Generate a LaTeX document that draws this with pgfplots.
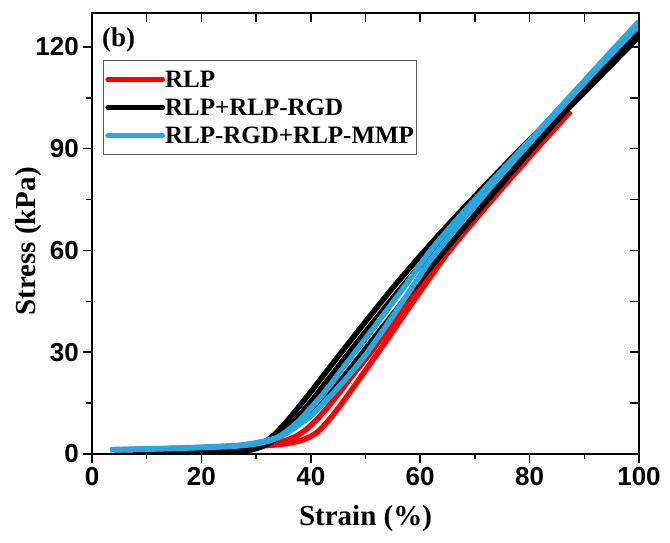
\documentclass[border=0pt]{standalone}
\usepackage{pgfplots}
\pgfplotsset{compat=1.18}
\usepackage{fontspec}
\setmainfont{Liberation Serif}
\setsansfont{Liberation Sans}
\definecolor{cblue}{RGB}{41,168,222}
\definecolor{cred}{RGB}{255,0,0}
\begin{document}
\begin{tikzpicture}
\path[use as bounding box] (-92pt,-89pt) rectangle (578pt,454pt);
\pgfplotsset{
  common/.style={
    at={(0pt,0pt)}, anchor=south west,
    scale only axis, width=547pt, height=441pt,
    xmin=0, xmax=100, ymin=0, ymax=130,
    xtick={0,20,40,60,80,100}, ytick={0,30,60,90,120},
    minor x tick num=1, minor y tick num=1,
    axis line style={line width=1.6pt},
    every tick/.style={line width=1.6pt, black},
    every minor tick/.style={line width=1.6pt, black},
  }
}
\begin{axis}[common,
  xtick pos=lower, ytick pos=left, tick align=outside,
  major tick length=9pt, minor tick length=5.5pt,
  /pgf/number format/assume math mode=true,
  ticklabel style={font=\fontsize{26}{26}\selectfont\sffamily\bfseries, inner sep=0pt},
  xticklabel style={yshift=-4pt},
  yticklabel style={xshift=-4pt},
  xlabel={Strain (\%)},
  ylabel={Stress (kPa)},
  xlabel style={at={(axis description cs:0.5,0)}, anchor=base, yshift=-71.7pt, inner sep=0pt, font=\fontsize{29}{29}\selectfont\bfseries},
  ylabel style={at={(axis description cs:0,0.482)}, anchor=base, yshift=56.5pt, inner sep=0pt, font=\fontsize{29}{29}\selectfont\bfseries},
  legend style={at={(axis description cs:0.0201,0.8934)}, anchor=north west,
    draw=black!65, line width=0.8pt, inner xsep=2pt, inner ysep=10.5pt,
    font=\fontsize{25}{25}\selectfont\bfseries,
    row sep=11pt,
    nodes={inner sep=0pt, text height=17pt, text depth=0pt}},
  legend cell align=left,
  legend image code/.code={\path[draw=none, fill=none] (0pt,-8.5pt) rectangle (55pt,8.5pt);\draw[#1, line width=4.7pt, line cap=round] (0pt,0pt) -- (55pt,0pt);},
  every axis plot/.append style={line width=5.5pt, line join=round, smooth, tension=0.4},
]
% RLP
\addplot[cred, forget plot] coordinates {(4,1.2)(10,1.4)(20,1.8)(28,2.2)(32,2.8)(35,3.8)(37,5.0)(39,7.0)(41,10.0)(43,13.6)(45,17.6)(47,21.9)(49,26.0)(51,30.0)(54,36.6)(57,43.2)(60,50.0)(63,56.3)(67,64.6)(71,72.6)(75,80.6)(80,90.0)(84,97.5)};
\addplot[cred] coordinates {(4,1.1)(10,1.3)(20,1.7)(28,2.1)(33,2.6)(36,3.2)(38,3.9)(39.5,4.8)(41,6.2)(42.2,8.0)(43.4,10.2)(44.5,12.4)(45.8,15.2)(48,20.1)(52,29.2)(55,36.2)(58,43.3)(61,50.2)(65,59.2)(70,69.0)(75,78.4)(80,87.6)(85,96.6)(87.5,101.0)};
\addlegendentry{RLP}
% RLP+RLP-RGD
\addplot[black] coordinates {(7.5,0.2)(15,0.3)(22,0.5)(26,0.9)(29,1.8)(31,3.0)(33,5.2)(35,8.5)(37,12.3)(40,18.3)(43,24.6)(46,30.8)(50,39.0)(55,49.0)(60,58.4)(65,67.4)(70,76.0)(75,84.4)(80,92.6)(85,100.6)(90,108.6)(95,116.6)(100,124.6)};
\addlegendentry{RLP+RLP-RGD}
\addplot[black, forget plot] coordinates {(8,0.1)(15,0.2)(22,0.3)(26,0.6)(29,1.2)(31,2.2)(33,3.8)(35,6.5)(37,9.8)(40,15.4)(43,21.6)(46,27.8)(50,36.0)(55,46.0)(60,55.6)(65,64.8)(70,73.6)(75,82.1)(80,90.4)(85,98.5)(90,106.6)(95,114.8)(100,123.0)};
\addplot[black, forget plot] coordinates {(8,0.1)(20,0.3)(27,0.8)(31,2.2)(34,4.8)(37,8.4)(40,12.0)(43,17.0)(46,22.8)(50,31.0)(55,41.2)(60,51.2)(65,61.0)(70,70.5)(75,79.9)(80,89.2)(85,98.3)(90,107.2)(95,116.0)(100,124.6)};
% RLP-RGD+RLP-MMP
\addplot[cblue] coordinates {(3.3,1.3)(10,1.5)(20,2.0)(27,2.6)(30,3.3)(32,4.0)(34,5.0)(36,7.2)(38,10.0)(40,13.6)(42,17.2)(44,21.3)(46,25.6)(48,29.8)(50,34.0)(53,40.4)(56,46.9)(59,53.5)(62,60.2)(66,67.8)(70,75.0)(75,83.7)(80,92.4)(85,101.2)(90,110.0)(95,118.8)(100,127.5)};
\addlegendentry{RLP-RGD+RLP-MMP}
\addplot[cblue, forget plot] coordinates {(4,1.2)(10,1.4)(20,1.9)(27,2.4)(30,3.0)(32,3.7)(34,4.8)(36,6.6)(38,8.8)(40,11.2)(42,14.4)(44,17.8)(46,21.4)(48,25.2)(50,29.2)(53,36.0)(56,43.0)(59,50.3)(62,57.4)(66,65.4)(70,73.2)(75,82.6)(80,91.7)(85,100.6)(90,109.4)(95,118.0)(100,126.4)};
\node[anchor=base west, inner sep=0pt, font=\fontsize{27}{27}\selectfont\bfseries] at (axis description cs:0.0183,0.9229) {(b)};
\end{axis}
\begin{axis}[common,
  xtick pos=upper, ytick pos=right, tick align=inside,
  major tick length=9pt, minor tick length=9pt,
  xticklabels={}, yticklabels={},
]
\end{axis}
\end{tikzpicture}
\end{document}
